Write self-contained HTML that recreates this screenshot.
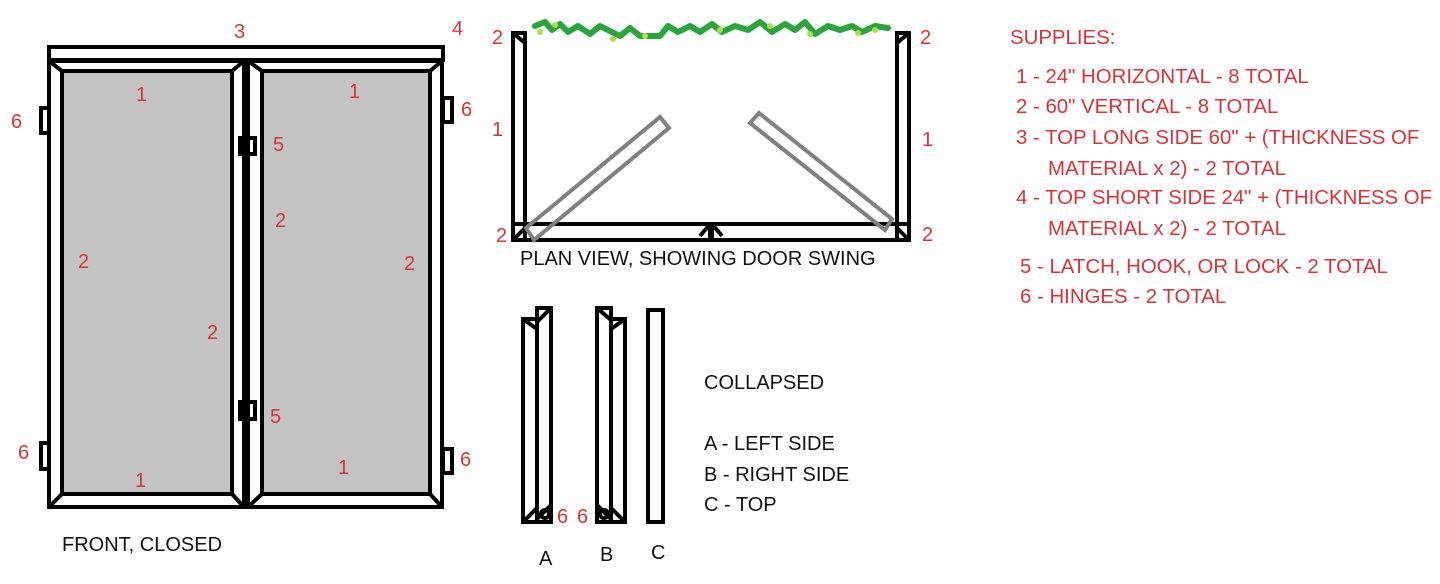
<!DOCTYPE html>
<html><head><style>
body{margin:0;background:#fff;width:1440px;height:584px;overflow:hidden}
svg{display:block}
text{font-family:"Liberation Sans",sans-serif;font-size:20px}
.r{fill:#d9333a}
.k{fill:#111}
.s text{font-size:20.4px}
</style></head><body>
<svg width="1440" height="584" viewBox="0 0 1440 584">
<g fill="none" stroke="#000" stroke-width="4">
<rect x="49" y="47" width="394" height="13"/>
<rect x="49" y="61" width="195" height="446"/>
<rect x="248" y="61" width="194" height="446"/>
<rect x="62" y="71" width="170" height="423" fill="#c3c3c3"/>
<rect x="262" y="71" width="168" height="423" fill="#c3c3c3"/>
<path d="M49 61L62 71M244 61L232 71M49 507L62 494M244 507L232 494M248 61L262 71M442 61L430 71M248 507L262 494M442 507L430 494"/>
<rect x="41" y="108" width="8" height="25"/>
<rect x="41" y="443" width="8" height="26"/>
<rect x="443" y="98" width="9" height="24"/>
<rect x="443" y="449" width="9" height="24"/>
<rect x="240" y="138" width="15" height="16"/>
<rect x="240" y="402" width="15" height="17"/>
<path d="M246 138v16M246 402v17"/>
<rect x="513" y="33" width="12" height="207"/>
<rect x="897" y="33" width="12" height="207"/>
<rect x="513" y="224" width="197" height="16"/>
<rect x="712" y="224" width="197" height="16"/>
<path d="M513 33l12 10M909 33l-12 10M513 240l12-12M909 240l-12-12M710 224l-10 12M712 224l10 12"/>
</g>
<g fill="none" stroke="#808080" stroke-width="4">
<path d="M526 228L660 117L669 128L534 240Z"/>
<path d="M759 113L892 219L885 230L750 123Z"/>
</g>
<path d="M535 26 L545 22 L552 30 L560 24 L568 32 L578 26 L590 34 L600 26 L612 32 L620 36 L630 28 L640 36 L660 36 L668 26 L678 32 L690 26 L700 32 L712 24 L722 32 L735 26 L748 30 L760 22 L772 32 L785 24 L795 30 L805 22 L815 34 L828 26 L840 30 L852 26 L862 32 L875 26 L888 28" fill="none" stroke="#2aa43c" stroke-width="6" stroke-linecap="round" stroke-linejoin="round"/>
<g fill="#a8e04a"><circle cx="540" cy="32" r="3"/><circle cx="555" cy="25" r="3"/><circle cx="613" cy="39" r="3"/><circle cx="645" cy="36" r="3"/><circle cx="720" cy="30" r="3"/><circle cx="770" cy="26" r="3"/><circle cx="810" cy="34" r="3"/><circle cx="858" cy="33" r="3"/><circle cx="875" cy="30" r="3"/></g>
<g fill="none" stroke="#000" stroke-width="4">
<rect x="523" y="319" width="14" height="203"/>
<rect x="537" y="308" width="14" height="214"/>
<rect x="597" y="308" width="14" height="214"/>
<rect x="611" y="319" width="14" height="203"/>
<rect x="648" y="310" width="15" height="212"/>
<path d="M523 319l14 10M551 308l-14 14M523 522l14-14M551 505l-14 14M597 308l14 12M625 319l-14 10M625 522l-14-14M597 505l14 14"/>
<circle cx="545" cy="514" r="4"/><circle cx="604" cy="514" r="4"/>
</g>
<g class="r">
<text x="234" y="38">3</text><text x="452" y="35">4</text>
<text x="136" y="101">1</text><text x="349" y="98">1</text>
<text x="11" y="128">6</text><text x="461" y="116">6</text>
<text x="273" y="151">5</text><text x="275" y="227">2</text>
<text x="78" y="268">2</text><text x="404" y="270">2</text><text x="207" y="339">2</text>
<text x="270" y="423">5</text><text x="18" y="459">6</text><text x="460" y="466">6</text>
<text x="135" y="487">1</text><text x="338" y="474">1</text>
<text x="492" y="44">2</text><text x="920" y="44">2</text>
<text x="492" y="136">1</text><text x="922" y="146">1</text>
<text x="496" y="242">2</text><text x="922" y="241">2</text>
<text x="557" y="523">6</text><text x="577" y="523">6</text>
</g>
<g class="r s">
<text x="1010" y="44">SUPPLIES:</text>
<text x="1016" y="83">1 - 24" HORIZONTAL - 8 TOTAL</text>
<text x="1016" y="113">2 - 60" VERTICAL - 8 TOTAL</text>
<text x="1016" y="144">3 - TOP LONG SIDE 60" + (THICKNESS OF</text>
<text x="1048" y="175">MATERIAL x 2) - 2 TOTAL</text>
<text x="1016" y="204">4 - TOP SHORT SIDE 24" + (THICKNESS OF</text>
<text x="1048" y="235">MATERIAL x 2) - 2 TOTAL</text>
<text x="1020" y="273">5 - LATCH, HOOK, OR LOCK - 2 TOTAL</text>
<text x="1020" y="303">6 - HINGES - 2 TOTAL</text>
</g>
<g class="k">
<text x="520" y="265">PLAN VIEW, SHOWING DOOR SWING</text>
<text x="62" y="551">FRONT, CLOSED</text>
<text x="704" y="389">COLLAPSED</text>
<text x="704" y="450">A - LEFT SIDE</text>
<text x="704" y="481">B - RIGHT SIDE</text>
<text x="704" y="511">C - TOP</text>
<text x="539" y="565">A</text><text x="600" y="561">B</text><text x="651" y="559">C</text>
</g>
</svg>
</body></html>
